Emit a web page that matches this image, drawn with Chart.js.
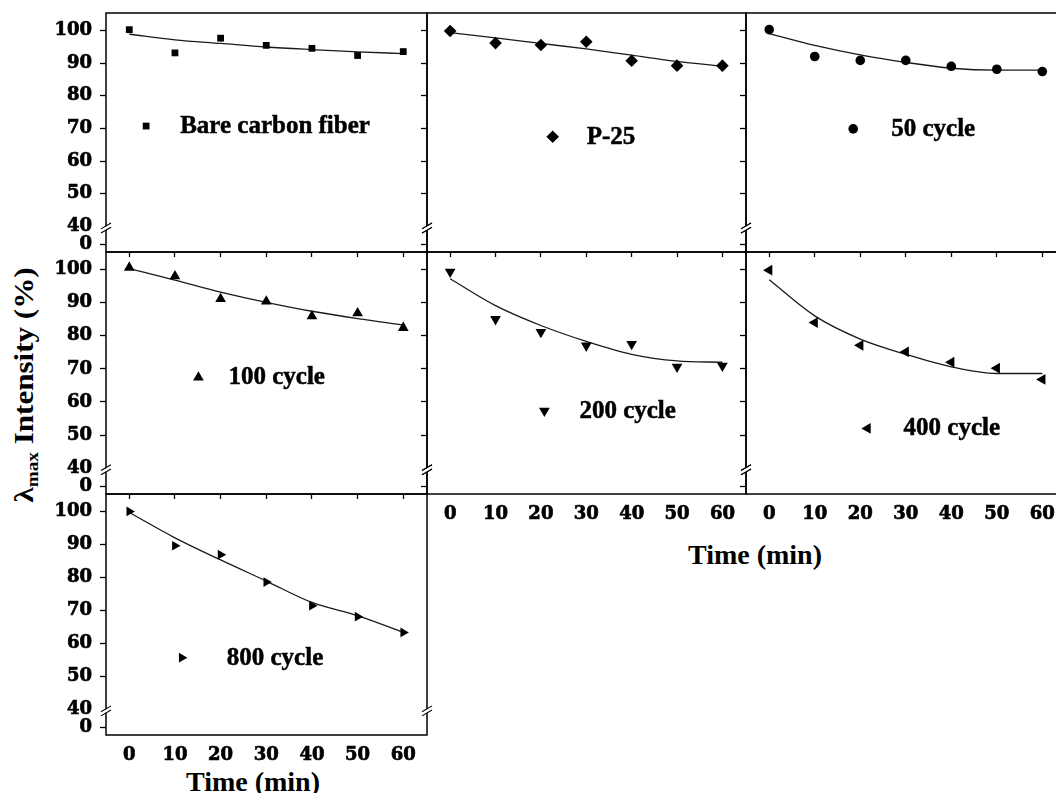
<!DOCTYPE html>
<html>
<head>
<meta charset="utf-8">
<script src="https://cdn.jsdelivr.net/npm/chart.js@4.4.0/dist/chart.umd.min.js"></script>
<style>
  html, body { margin: 0; padding: 0; background: #fff; width: 1056px; height: 793px; overflow: hidden; }
  #wrap { position: relative; width: 1056px; height: 793px; overflow: hidden; }
  #wrap canvas { position: absolute; }
  .lbl { position: absolute; font-family: "Liberation Serif", "Times New Roman", serif; font-weight: bold; color: #000; white-space: nowrap; line-height: 1; }
  .lbl sub { font-size: 0.62em; vertical-align: -0.3em; }
</style>
</head>
<body>
<div id="wrap">
  <div class="lbl" id="ytitle" style="font-size:27px; left:26px; top:385px; transform: translate(-50%, -50%) rotate(-90deg) scaleX(1.15);">λ<sub>max</sub> Intensity (%)</div>
  <div class="lbl" style="font-size:28px; left:253px; top:768px; transform: translateX(-50%);">Time (min)</div>
  <div class="lbl" style="font-size:28px; left:755px; top:541px; transform: translateX(-50%);">Time (min)</div>
</div>
<script>
// values (% of initial lambda-max intensity)
const timeMin = [0, 10, 20, 30, 40, 50, 60];
const xTicks = [0, 10, 20, 30, 40, 50, 60];
const yTicks = [0, 40, 50, 60, 70, 80, 90, 100];

const bareFiber = [100.2, 93.1, 97.6, 95.4, 94.5, 92.3, 93.5];
const bareFiberFit = [98.8, 97.1, 96.0, 94.9, 94.1, 93.4, 92.9];
const p25 = [99.8, 96.1, 95.5, 96.5, 90.7, 89.2, 89.2];
const p25Fit = [99.3, 97.7, 96.0, 94.3, 92.4, 90.5, 89.0];
const cycle50 = [100.2, 92.0, 90.8, 90.8, 89.0, 88.1, 87.4];
const cycle50Fit = [99.0, 95.4, 92.5, 90.2, 88.4, 87.8, 87.8];
const cycle100 = [100.6, 98.0, 91.1, 90.4, 85.9, 86.8, 82.4];
const cycle100Fit = [100.3, 96.8, 93.2, 90.1, 87.4, 85.2, 83.3];
const cycle200 = [99.3, 85.0, 81.1, 77.0, 77.5, 70.6, 70.9];
const cycle200Fit = [97.2, 89.1, 83.1, 78.3, 74.4, 72.4, 72.0];
const cycle400 = [99.8, 84.0, 77.1, 75.1, 72.0, 70.2, 66.8];
const cycle400Fit = [96.9, 86.0, 79.0, 74.4, 70.6, 68.6, 68.6];
const cycle800 = [100.0, 89.6, 86.9, 78.6, 71.4, 68.1, 63.3];
const cycle800Fit = [99.7, 92.0, 85.3, 78.9, 72.4, 68.4, 63.3];

// broken y axis: the "0" tick sits just below the break at 40
const ZERO_POS = 34.6;
const BREAK_AT = 39.4;

const PAD_L = 100, PAD_T = 10, PAD_R = 10, PAD_B = 40;

const panels = [
    {label: 'Bare carbon fiber', values: bareFiber, fit: bareFiberFit, style: 'rect', radius: 4.8, rot: 0,
        left: 106, top: 13, width: 321, height: 239, yLabels: true, xLabels: false, xMarks: true, key: [0.125, 0.473, 34]},
    {label: 'P-25', values: p25, fit: p25Fit, style: 'rectRot', radius: 6.3, rot: 0,
        left: 427, top: 13, width: 319, height: 239, yLabels: false, xLabels: false, xMarks: true, key: [0.394, 0.518, 34]},
    {label: '50 cycle', values: cycle50, fit: cycle50Fit, style: 'circle', radius: 4.8, rot: 0,
        left: 746, top: 13, width: 320, height: 239, yLabels: false, xLabels: false, xMarks: true, key: [0.335, 0.485, 38]},
    {label: '100 cycle', values: cycle100, fit: cycle100Fit, style: 'triangle', radius: 6.2, rot: 0,
        left: 106, top: 252, width: 321, height: 242, yLabels: true, xLabels: false, xMarks: true, key: [0.288, 0.518, 30]},
    {label: '200 cycle', values: cycle200, fit: cycle200Fit, style: 'triangle', radius: 6.2, rot: 180,
        left: 427, top: 252, width: 319, height: 242, yLabels: false, xLabels: true, xMarks: false, key: [0.368, 0.656, 35]},
    {label: '400 cycle', values: cycle400, fit: cycle400Fit, style: 'triangle', radius: 6.2, rot: 270,
        left: 746, top: 252, width: 320, height: 242, yLabels: false, xLabels: true, xMarks: false, key: [0.380, 0.729, 36]},
    {label: '800 cycle', values: cycle800, fit: cycle800Fit, style: 'triangle', radius: 5.6, rot: 90,
        left: 106, top: 494, width: 321, height: 241, yLabels: true, xLabels: true, xMarks: false, key: [0.236, 0.679, 45]},
];

const frameAndKey = {
    id: 'frameAndKey',
    afterDraw(chart, args, opts) {
        const p = opts.panel;
        const {ctx, chartArea: a} = chart;
        const y = chart.scales.y;
        ctx.save();
        // frame
        ctx.strokeStyle = '#000';
        ctx.lineWidth = 1.5;
        ctx.strokeRect(a.left, a.top, a.right - a.left, a.bottom - a.top);

        // axis breaks on both sides
        const by = y.getPixelForValue(BREAK_AT);
        [a.left, a.right].forEach(ax => {
            ctx.fillStyle = '#fff';
            ctx.beginPath();
            ctx.moveTo(ax - 4, by + 0.6);
            ctx.lineTo(ax + 4, by - 4.4);
            ctx.lineTo(ax + 4, by - 1.0);
            ctx.lineTo(ax - 4, by + 4.0);
            ctx.closePath();
            ctx.fill();
            ctx.strokeStyle = '#000';
            ctx.lineWidth = 1.1;
            ctx.beginPath();
            ctx.moveTo(ax - 5, by + 0.4);
            ctx.lineTo(ax + 5, by - 5.4);
            ctx.moveTo(ax - 5, by + 4.6);
            ctx.lineTo(ax + 5, by - 1.2);
            ctx.stroke();
        });

        // in-panel key
        const kx = a.left + p.key[0] * (a.right - a.left);
        const ky = a.top + p.key[1] * (a.bottom - a.top);
        ctx.fillStyle = '#000';
        Chart.helpers.drawPoint(ctx, {pointStyle: p.style, radius: p.radius, rotation: p.rot, borderWidth: 0}, kx, ky);
        ctx.font = 'bold 25px "Liberation Serif", "Times New Roman", serif';
        ctx.textAlign = 'left';
        ctx.textBaseline = 'alphabetic';
        ctx.strokeStyle = '#000';
        ctx.lineWidth = 0.5;
        ctx.fillText(p.label, kx + p.key[2], ky + 7);
        ctx.strokeText(p.label, kx + p.key[2], ky + 7);
        ctx.restore();
    }
};

const wrap = document.getElementById('wrap');

panels.forEach(p => {
    const canvas = document.createElement('canvas');
    const w = p.width + PAD_L + PAD_R;
    const h = p.height + PAD_T + PAD_B;
    canvas.width = w;
    canvas.height = h;
    canvas.style.width = w + 'px';
    canvas.style.height = h + 'px';
    canvas.style.left = (p.left - PAD_L) + 'px';
    canvas.style.top = (p.top - PAD_T) + 'px';
    wrap.appendChild(canvas);

    new Chart(canvas.getContext('2d'), {
        type: 'scatter',
        data: {
            datasets: [
                {
                    data: timeMin.map((t, i) => ({x: t, y: p.values[i]})),
                    showLine: false,
                    pointStyle: p.style,
                    pointRadius: p.radius,
                    pointRotation: p.rot,
                    backgroundColor: '#000',
                    borderColor: '#000',
                    borderWidth: 0
                },
                {
                    data: timeMin.map((t, i) => ({x: t, y: p.fit[i]})),
                    showLine: true,
                    pointRadius: 0,
                    borderColor: '#1a1a1a',
                    borderWidth: 1.3,
                    cubicInterpolationMode: 'monotone'
                }
            ]
        },
        options: {
            animation: false,
            responsive: false,
            devicePixelRatio: 1,
            events: [],
            layout: {padding: {top: PAD_T, right: PAD_R, left: 0, bottom: 0}, autoPadding: false},
            plugins: {
                legend: {display: false},
                tooltip: {enabled: false},
                frameAndKey: {panel: p}
            },
            scales: {
                x: {
                    type: 'linear',
                    position: 'bottom',
                    min: -5.1,
                    max: 65.2,
                    afterBuildTicks: s => { s.ticks = xTicks.map(v => ({value: v})); },
                    afterFit: s => { s.height = PAD_B; s.paddingLeft = 0; s.paddingRight = 0; },
                    border: {display: false},
                    grid: {drawOnChartArea: false, drawTicks: p.xMarks, tickLength: 5, tickWidth: 1.3, tickColor: '#000'},
                    ticks: {
                        display: p.xLabels,
                        padding: 10,
                        color: '#000',
                        textStrokeColor: '#000',
                        textStrokeWidth: 0.7,
                        maxRotation: 0,
                        autoSkip: false,
                        font: {family: '"DejaVu Serif"', weight: 'bold', size: 18}
                    }
                },
                y: {
                    type: 'linear',
                    min: 32.2,
                    max: 105.3,
                    afterBuildTicks: s => { s.ticks = yTicks.map(v => ({value: v === 0 ? ZERO_POS : v})); },
                    afterFit: s => { s.width = PAD_L; s.paddingTop = 0; s.paddingBottom = 0; },
                    border: {display: false},
                    grid: {
                        drawOnChartArea: false,
                        drawTicks: true,
                        tickLength: 6,
                        tickWidth: 1.3,
                        tickColor: c => (c.tick && c.tick.value === 40) ? 'rgba(0,0,0,0)' : '#000'
                    },
                    ticks: {
                        display: p.yLabels,
                        padding: 8,
                        color: '#000',
                        textStrokeColor: '#000',
                        textStrokeWidth: 0.7,
                        autoSkip: false,
                        font: {family: '"DejaVu Serif"', weight: 'bold', size: 18},
                        callback: v => v === ZERO_POS ? '0' : v
                    }
                }
            }
        },
        plugins: [frameAndKey]
    });
});
</script>
</body>
</html>
